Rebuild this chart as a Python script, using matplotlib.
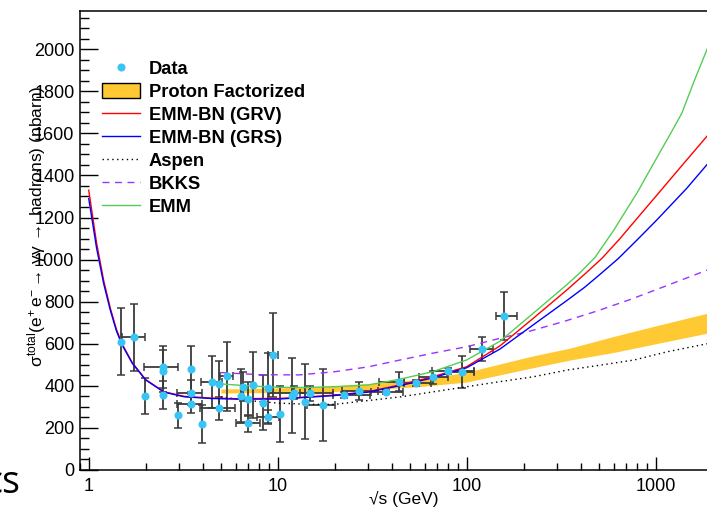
import matplotlib
matplotlib.use('Agg')
import matplotlib.pyplot as plt
from matplotlib.patches import Patch
from matplotlib.lines import Line2D
from matplotlib.ticker import MultipleLocator, FuncFormatter, NullFormatter
import numpy as np

plt.rcParams['font.family'] = ['Liberation Sans', 'DejaVu Sans']
plt.rcParams['mathtext.fontset'] = 'custom'
plt.rcParams['mathtext.rm'] = 'Liberation Sans'
plt.rcParams['mathtext.it'] = 'Liberation Sans'
plt.rcParams['mathtext.bf'] = 'Liberation Sans:bold'

# measured points: sqrt(s), sigma, sym. y error, x range low / high
data_x = [1.48, 1.74, 1.99, 2.46, 2.46, 2.46, 2.96, 3.46, 3.46, 3.46,
          3.99, 4.48, 4.91, 4.91, 5.41, 6.38, 6.58, 7.0, 7.0, 7.38,
          8.36, 8.87, 8.87, 9.4, 10.3, 11.9, 12.26, 13.9, 14.8, 17.3,
          22.3, 27.0, 37.4, 44.0, 53.9, 66.6, 79.3, 94.5, 120.0, 157.0]
data_y = [610, 631, 353, 488, 472, 356, 260, 480, 367, 314,
          217, 418, 407, 293, 445, 353, 396, 336, 222, 404,
          320, 388, 253, 547, 266, 352, 367, 325, 365, 310,
          356, 377, 372, 420, 412, 440, 472, 467, 577, 733]
data_yerr = [160, 160, 85, 100, 100, 65, 60, 110, 60, 45,
             90, 125, 110, 55, 165, 125, 70, 80, 40, 155,
             130, 170, 30, 200, 133, 178, 30, 178, 35, 170,
             15, 42, 10, 45, 15, 30, 15, 76, 57, 113]
data_xlo = [1.48, 1.50, 1.99, 1.97, 2.46, 2.46, 2.96, 3.46, 2.94, 2.94,
            3.99, 3.91, 4.91, 3.88, 4.95, 6.38, 6.58, 7.0, 6.03, 7.38,
            8.36, 8.87, 7.8, 8.92, 10.3, 11.9, 9.0, 13.9, 13.1, 14.2,
            19.7, 22.0, 31.0, 34.3, 46.6, 56.0, 65.2, 78.5, 104.6, 142.0]
data_xhi = [1.48, 1.99, 1.99, 2.98, 2.46, 2.46, 2.96, 3.46, 3.97, 3.97,
            3.99, 5.06, 4.91, 5.95, 5.8, 6.38, 6.58, 7.0, 8.1, 7.38,
            8.36, 8.87, 10.1, 9.98, 10.3, 11.9, 14.6, 13.9, 19.7, 20.1,
            30.7, 34.0, 46.0, 46.6, 64.5, 80.0, 109.0, 109.0, 138.0, 184.0]

# proton factorized band
pf_x = [5, 10, 20, 35, 57, 100, 216, 354, 594, 1000, 1870]
pf_hi = [385, 390, 400, 415, 430, 465, 539, 580, 634, 685, 745]
pf_lo = [366, 368, 373, 385, 397, 418, 483, 523, 558, 600, 650]

# EMM-BN (GRV)
grv_x = [1.0, 1.1, 1.2, 1.3, 1.4, 1.5, 1.7, 2.0, 2.5, 3.2, 4.4, 6, 10, 13, 20,
         30, 44, 66, 100, 150, 225, 338, 420, 518, 640, 750, 1000, 1400, 1870]
grv_y = [1330, 1080, 900, 770, 670, 600, 510, 430, 372, 350, 342, 339, 340, 345, 356,
         372, 404, 443, 491, 590, 721, 855, 930, 1005, 1095, 1168, 1300, 1455, 1587]

# EMM-BN (GRS)
grs_x = [1.0, 1.1, 1.2, 1.3, 1.4, 1.5, 1.7, 2.0, 2.5, 3.2, 4.4, 6, 10, 13, 20,
         30, 44, 66, 100, 150, 225, 338, 420, 500, 634, 800, 1000, 1200, 1460, 1870]
grs_y = [1290, 1055, 885, 760, 662, 595, 507, 428, 370, 348, 340, 337, 337, 343, 354,
         370, 400, 438, 486, 575, 690, 805, 868, 925, 1005, 1095, 1183, 1258, 1339, 1452]

# Aspen
aspen_x = [5, 7, 10, 15, 20, 30, 45, 67, 100, 150, 225, 340, 515, 770, 1150, 1870]
aspen_y = [347, 330, 318, 312, 312, 330, 348, 372, 396, 420, 443, 475, 499, 523, 562, 600]

# BKKS
bkks_x = [5, 8, 13, 20, 30, 44, 66, 100, 150, 216, 324, 487, 731, 1097, 1870]
bkks_y = [463, 453, 452, 467, 490, 522, 555, 586, 626, 660, 705, 755, 810, 870, 950]

# EMM
emm_x = [5, 7, 10, 14, 20, 30, 44, 66, 100, 150, 225, 338, 400, 477, 600, 800,
         1000, 1200, 1373, 1600, 1870]
emm_y = [409, 400, 393, 392, 396, 404, 431, 467, 523, 612, 745, 880, 940, 1010, 1140, 1320,
         1475, 1600, 1695, 1850, 2000]

fig = plt.figure(figsize=(7.07, 5.13), dpi=100)
ax = fig.add_axes([80 / 707, 43 / 513, 627 / 707, 459.3 / 513])

orange = '#ffc933'
ax.fill_between(pf_x, pf_lo, pf_hi, color=orange, lw=0, zorder=2)

dx = np.array(data_x)
xerr = [dx - np.array(data_xlo), np.array(data_xhi) - dx]
ax.errorbar(data_x, data_y, yerr=data_yerr, xerr=xerr, fmt='none',
            ecolor='#3a3a3a', elinewidth=1.3, capsize=3, capthick=1.1, zorder=3)

ax.plot(aspen_x, aspen_y, color='black', lw=1.0, ls=(0, (1, 2.5)), zorder=4)
ax.plot(bkks_x, bkks_y, color='#9933ff', lw=1.0, ls=(0, (5, 4)), zorder=4)
ax.plot(emm_x, emm_y, color='#55cc55', lw=1.0, zorder=4)
ax.plot(grv_x, grv_y, color='#ff0000', lw=1.0, zorder=5)
ax.plot(grs_x, grs_y, color='#0000ff', lw=1.0, zorder=5)

ax.plot(data_x, data_y, 'o', color='#36c5f4', ms=5.8, mew=0, zorder=6)

ax.set_xscale('log')
ax.set_xlim(0.899, 1868)
ax.set_ylim(0, 2183)

ax.xaxis.set_major_formatter(FuncFormatter(lambda v, p: f'{v:g}'))
ax.xaxis.set_minor_formatter(NullFormatter())
ax.yaxis.set_major_locator(MultipleLocator(200))
ax.yaxis.set_minor_locator(MultipleLocator(50))

ax.tick_params(axis='both', which='both', direction='in', width=1.0,
               labelsize=13, top=False, right=False)
ax.tick_params(axis='y', which='major', length=13, pad=4)
ax.tick_params(axis='y', which='minor', length=6.5)
ax.tick_params(axis='x', which='major', length=9.4, pad=6)
ax.tick_params(axis='x', which='minor', length=5)

for side in ['left', 'bottom', 'top']:
    ax.spines[side].set_linewidth(1.1)
ax.spines['right'].set_visible(False)

ax.set_xlabel('\u221as (GeV)', fontsize=12.5)
ax.xaxis.set_label_coords(0.517, -0.045)
ax.set_ylabel(r'$\sigma^{\mathrm{total}}(\mathrm{e}^{+}\,\mathrm{e}^{-}\rightarrow\,\gamma\gamma\,\rightarrow$ hadrons) (nbarn)',
              fontsize=12.5)
ax.yaxis.set_label_coords(-0.051, 0.53)

handles = [
    Line2D([], [], ls='none', marker='o', color='#36c5f4', ms=5.8, mew=0),
    Patch(facecolor=orange, edgecolor='black', lw=1.0),
    Line2D([], [], color='#ff0000', lw=1.0),
    Line2D([], [], color='#0000ff', lw=1.0),
    Line2D([], [], color='black', lw=1.0, ls=(0, (1, 2.5))),
    Line2D([], [], color='#9933ff', lw=1.0, ls=(0, (5, 4))),
    Line2D([], [], color='#55cc55', lw=1.0),
]
labels = ['Data', 'Proton Factorized', 'EMM-BN (GRV)', 'EMM-BN (GRS)',
          'Aspen', 'BKKS', 'EMM']
ax.legend(handles, labels, loc='upper left', frameon=False,
          bbox_to_anchor=(102 / 707, 1 - 60 / 513), bbox_transform=fig.transFigure,
          prop={'weight': 'bold', 'size': 13.2}, handlelength=2.05, handleheight=0.92,
          handletextpad=0.5, labelspacing=0.27, borderpad=0, borderaxespad=0)

fig.text(21 / 707, 1 - 493 / 513, 'cs', fontsize=27, family='Open Sans',
         ha='right', va='baseline')

fig.savefig('out.png', dpi=100)
